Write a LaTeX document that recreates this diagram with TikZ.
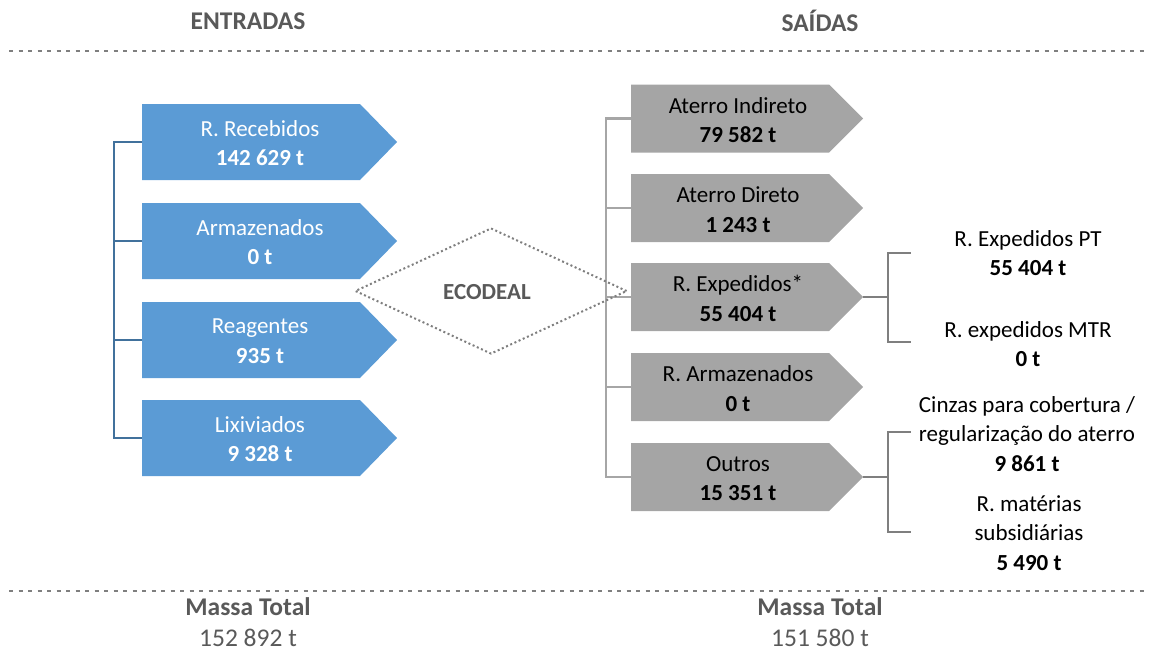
\documentclass[tikz,border=0pt]{standalone}
\usepackage{fontspec}
\setmainfont{Carlito}
\usetikzlibrary{calc,shapes.geometric}
\definecolor{bfill}{HTML}{5B9BD5}
\definecolor{bline}{HTML}{41719C}
\definecolor{gfill}{HTML}{A5A5A5}
\definecolor{gline}{HTML}{A6A6A6}
\definecolor{dline}{HTML}{7F7F7F}
\definecolor{htext}{HTML}{595959}
\begin{document}
\begin{tikzpicture}[x=1pt,y=-1pt,
  txt/.style={font=\fontsize{23}{29.5}\selectfont, align=center, inner sep=0pt},
  bbody/.style={minimum width=218pt, minimum height=76pt, inner sep=0pt, outer sep=0pt},
  gbody/.style={minimum width=198pt, minimum height=68pt, inner sep=0pt, outer sep=0pt},
  btxt/.style={txt, text=white},
  gtxt/.style={txt, text=black},
  head/.style={txt, text=htext, font=\fontsize{25.5}{30}\selectfont\bfseries},
  foot/.style={txt, text=htext, font=\fontsize{25.5}{30}\selectfont},
  sep/.style={draw=dline, line width=2pt, dash pattern=on 4pt off 5.5pt},
  bbrk/.style={draw=bline, line width=2.2pt},
  gbrk/.style={draw=gline, line width=2.2pt},
  sbrk/.style={draw=dline, line width=2.2pt}
]
\useasboundingbox (0,0) rectangle (1152,651);

% headers and separators
\node[head] (hin) at (248,21) {ENTRADAS};
\node[head] (hout) at (820,21) {SAÍDAS};
\coordinate (s1a) at (9,51); \coordinate (s1b) at (1148,51);
\coordinate (s2a) at (9,591); \coordinate (s2b) at (1148,591);
\draw[sep] (s1a) -- (s1b);
\draw[sep] (s2a) -- (s2b);

% blue input boxes
\foreach \n/\y/\a/\b in {b1/142/R. Recebidos/142 629 t, b2/241/Armazenados/0 t, b3/340/Reagentes/935 t, b4/438/Lixiviados/9 328 t}{
  \node[bbody] (\n) at (251,\y) {};
  \fill[bfill] (\n.north west) -- (\n.north east) -- ($(\n.east)+(37,0)$) -- (\n.south east) -- (\n.south west) -- cycle;
  \node[btxt] (\n t) at (260,\y+1) {\a\\\textbf{\b}};
}

% blue bracket
\coordinate (bk1) at (114,142);
\coordinate (bk4) at (114,438);
\draw[bbrk] (b1.west) -- (bk1) -- (bk4) -- (b4.west);
\draw[bbrk] (b2.west) -- (b2.west -| bk1);
\draw[bbrk] (b3.west) -- (b3.west -| bk1);

% gray output boxes
\foreach \n/\y/\a/\b in {g1/118.5/Aterro Indireto/79 582 t, g2/208/Aterro Direto/1 243 t, g3/297/R. Expedidos*/55 404 t, g4/387/R. Armazenados/0 t, g5/477/Outros/15 351 t}{
  \node[gbody] (\n) at (730,\y) {};
  \fill[gfill] (\n.north west) -- (\n.north east) -- ($(\n.east)+(34,0)$) coordinate (\n tip) -- (\n.south east) -- (\n.south west) -- cycle;
  \node[gtxt] (\n t) at (738,\y+1.5) {\a\\\textbf{\b}};
}

% gray bracket
\coordinate (gk1) at (606,118.5);
\coordinate (gk5) at (606,477);
\draw[gbrk] (g1.west) -- (gk1) -- (gk5) -- (g5.west);
\draw[gbrk] (g2.west) -- (g2.west -| gk1);
\draw[gbrk] (g3.west) -- (g3.west -| gk1);
\draw[gbrk] (g4.west) -- (g4.west -| gk1);

% ECODEAL diamond
\node[diamond, draw=dline, line width=2pt, dash pattern=on 2pt off 2.6pt,
      minimum width=272pt, minimum height=126pt, inner sep=0pt] (eco) at (491,291) {};
\node[txt, text=htext, font=\fontsize{23}{29.5}\selectfont\bfseries] (ecot) at (487,292) {ECODEAL};

% R. Expedidos sub-bracket
\coordinate (x0) at (888,297);
\coordinate (x1) at (911,253);
\coordinate (x2) at (911,342);
\draw[sbrk] (g3tip) -- (x0);
\draw[sbrk] (x0) |- (x1);
\draw[sbrk] (x0) |- (x2);
\node[gtxt] (e1) at (1028,253) {R. Expedidos PT\\\textbf{55 404 t}};
\node[gtxt] (e2) at (1028,344) {R. expedidos MTR\\\textbf{0 t}};

% Outros sub-bracket
\coordinate (o0) at (888,477);
\coordinate (o1) at (911,432);
\coordinate (o2) at (911,532);
\draw[sbrk] (g5tip) -- (o0);
\draw[sbrk] (o0) |- (o1);
\draw[sbrk] (o0) |- (o2);
\node[gtxt] (c1) at (1027,434) {Cinzas para cobertura /\\regularização do aterro\\\textbf{9 861 t}};
\node[gtxt] (c2) at (1029,533) {R. matérias\\subsidiárias\\\textbf{5 490 t}};

% totals
\node[head] (tin) at (248,607) {Massa Total};
\node[foot] (vin) at (248,638) {152 892 t};
\node[head] (tout) at (820,607) {Massa Total};
\node[foot] (vout) at (820,638) {151 580 t};
\end{tikzpicture}
\end{document}
